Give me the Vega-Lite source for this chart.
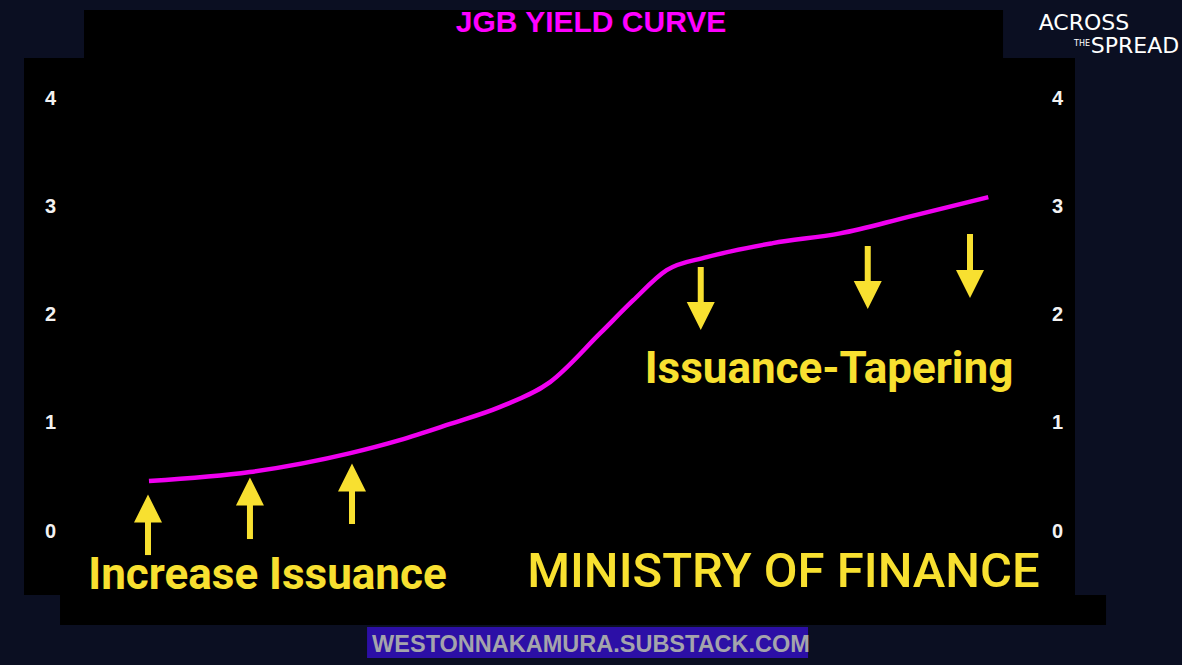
{
  "$schema": "https://vega.github.io/schema/vega-lite/v6.json",
  "width": 1051,
  "height": 537,
  "autosize": {"type": "none"},
  "padding": {"left": 24, "top": 58, "right": 107, "bottom": 70},
  "background": "#0b0f22",
  "config": {
    "view": {"fill": "#000000", "stroke": null},
    "axis": {"grid": false, "domain": false, "ticks": false, "tickSize": 0, "labelColor": "#f2f2f2", "labelFont": "Liberation Sans", "labelFontWeight": "bold", "title": null, "zindex": 1}
  },
  "datasets": {
    "curve": [
      {"tenor": 0.114, "yield": 0.462},
      {"tenor": 1.075, "yield": 0.545},
      {"tenor": 2.03, "yield": 0.72},
      {"tenor": 2.5, "yield": 0.84},
      {"tenor": 2.98, "yield": 0.99},
      {"tenor": 3.45, "yield": 1.145},
      {"tenor": 3.93, "yield": 1.376},
      {"tenor": 4.41, "yield": 1.83},
      {"tenor": 4.72, "yield": 2.13},
      {"tenor": 5.04, "yield": 2.41},
      {"tenor": 5.42, "yield": 2.53},
      {"tenor": 6.05, "yield": 2.66},
      {"tenor": 6.69, "yield": 2.75},
      {"tenor": 7.33, "yield": 2.9},
      {"tenor": 8.1, "yield": 3.085}
    ],
    "arrows": [
      {"tenor": 0.105, "tail": -0.222, "head": 0.208, "dir": "up"},
      {"tenor": 1.075, "tail": -0.074, "head": 0.365, "dir": "up"},
      {"tenor": 2.046, "tail": 0.065, "head": 0.494, "dir": "up"},
      {"tenor": 5.364, "tail": 2.439, "head": 1.986, "dir": "down"},
      {"tenor": 6.953, "tail": 2.633, "head": 2.18, "dir": "down"},
      {"tenor": 7.926, "tail": 2.744, "head": 2.282, "dir": "down"}
    ],
    "panels": [
      {"x1": -0.504, "x2": 8.24, "y1": 4.37, "y2": 4.813},
      {"x1": -0.732, "x2": 9.22, "y1": -0.591, "y2": -0.868}
    ],
    "band": [
      {"x1": 2.189, "x2": 6.385, "y1": -0.887, "y2": -1.173}
    ],
    "notes": [
      {"kind": "callout", "label": "Increase Issuance", "tenor": 1.242, "yield": -0.536},
      {"kind": "callout", "label": "Issuance-Tapering", "tenor": 6.584, "yield": 1.367},
      {"kind": "big", "label": "MINISTRY OF FINANCE", "tenor": 6.151, "yield": -0.517},
      {"kind": "title", "label": "JGB YIELD CURVE", "tenor": 4.32, "yield": 4.61},
      {"kind": "footer", "label": "WESTONNAKAMURA.SUBSTACK.COM", "tenor": 4.32, "yield": -1.118},
      {"kind": "logo1", "label": "ACROSS", "tenor": 9.01, "yield": 4.628},
      {"kind": "logo2", "label": "SPREAD", "tenor": 9.496, "yield": 4.416},
      {"kind": "logo3", "label": "THE", "tenor": 8.992, "yield": 4.48}
    ]
  },
  "resolve": {"axis": {"x": "independent", "y": "independent"}},
  "layer": [
    {
      "data": {"name": "panels"},
      "mark": {"type": "rect", "fill": "#000000", "clip": false},
      "encoding": {
        "x": {"field": "x1", "type": "quantitative", "scale": {"domain": [-1.075, 8.925], "nice": false, "zero": false}, "axis": null},
        "x2": {"field": "x2"},
        "y": {"field": "y1", "type": "quantitative", "scale": {"domain": [-0.591, 4.37], "nice": false, "zero": false}, "axis": null},
        "y2": {"field": "y2"}
      }
    },
    {
      "data": {"name": "band"},
      "mark": {"type": "rect", "fill": "#2c0fa6", "clip": false},
      "encoding": {
        "x": {"field": "x1", "type": "quantitative", "axis": null},
        "x2": {"field": "x2"},
        "y": {"field": "y1", "type": "quantitative", "axis": null},
        "y2": {"field": "y2"}
      }
    },
    {
      "data": {"name": "curve"},
      "mark": {"type": "line", "color": "#f000f0", "strokeWidth": 4.5, "interpolate": "monotone", "strokeCap": "butt"},
      "encoding": {
        "x": {"field": "tenor", "type": "quantitative", "axis": {"orient": "bottom", "values": [0, 1, 2, 3, 4, 5, 6, 7, 8], "labelExpr": "['6M','1Y','2Y','5Y','10Y','20Y','25Y','30Y','40Y'][datum.value]", "labelFontSize": 13, "labelPadding": 11, "labelOffset": 3}},
        "y": {"field": "yield", "type": "quantitative", "axis": {"orient": "left", "values": [0, 1, 2, 3, 4], "labelFontSize": 20, "labelAlign": "center", "labelPadding": -26}}
      }
    },
    {
      "data": {"name": "arrows"},
      "mark": {"type": "rule", "color": "#f8e030", "strokeWidth": 6, "strokeCap": "butt"},
      "encoding": {
        "x": {"field": "tenor", "type": "quantitative", "axis": {"orient": "top", "values": [0, 1, 2, 3, 4, 5, 6, 7, 8], "labelExpr": "['6M','1Y','2Y','5Y','10Y','20Y','25Y','30Y','40Y'][datum.value]", "labelFontSize": 13, "labelPadding": 1, "labelOffset": -3}},
        "y": {"field": "tail", "type": "quantitative", "axis": {"orient": "right", "values": [0, 1, 2, 3, 4], "labelFontSize": 20, "labelAlign": "center", "labelPadding": -18}},
        "y2": {"field": "head"}
      }
    },
    {
      "data": {"name": "arrows"},
      "transform": [{"filter": "datum.dir == 'up'"}],
      "mark": {"type": "point", "shape": "M0,-1L1,1L-1,1Z", "size": 784, "filled": true, "color": "#f8e030", "opacity": 1},
      "encoding": {
        "x": {"field": "tenor", "type": "quantitative", "axis": null},
        "y": {"field": "head", "type": "quantitative", "axis": null}
      }
    },
    {
      "data": {"name": "arrows"},
      "transform": [{"filter": "datum.dir == 'down'"}],
      "mark": {"type": "point", "shape": "M0,1L1,-1L-1,-1Z", "size": 784, "filled": true, "color": "#f8e030", "opacity": 1},
      "encoding": {
        "x": {"field": "tenor", "type": "quantitative", "axis": null},
        "y": {"field": "head", "type": "quantitative", "axis": null}
      }
    },
    {
      "data": {"name": "notes"},
      "transform": [{"filter": "datum.kind == 'callout'"}],
      "mark": {"type": "text", "font": "Roboto", "fontWeight": "bold", "fontSize": 44, "color": "#f8e030", "baseline": "alphabetic", "align": "center", "clip": false},
      "encoding": {
        "x": {"field": "tenor", "type": "quantitative", "axis": null},
        "y": {"field": "yield", "type": "quantitative", "axis": null},
        "text": {"field": "label"}
      }
    },
    {
      "data": {"name": "notes"},
      "transform": [{"filter": "datum.kind == 'big'"}],
      "mark": {"type": "text", "font": "Roboto", "fontWeight": 500, "fontSize": 49, "color": "#f8e030", "baseline": "alphabetic", "align": "center", "clip": false},
      "encoding": {
        "x": {"field": "tenor", "type": "quantitative", "axis": null},
        "y": {"field": "yield", "type": "quantitative", "axis": null},
        "text": {"field": "label"}
      }
    },
    {
      "data": {"name": "notes"},
      "transform": [{"filter": "datum.kind == 'title'"}],
      "mark": {"type": "text", "font": "Liberation Sans", "fontWeight": "bold", "fontSize": 30, "color": "#ff00ff", "baseline": "alphabetic", "align": "center", "clip": false},
      "encoding": {
        "x": {"field": "tenor", "type": "quantitative", "axis": null},
        "y": {"field": "yield", "type": "quantitative", "axis": null},
        "text": {"field": "label"}
      }
    },
    {
      "data": {"name": "notes"},
      "transform": [{"filter": "datum.kind == 'footer'"}],
      "mark": {"type": "text", "font": "Liberation Sans", "fontWeight": "bold", "fontSize": 23.5, "color": "#a4a4ac", "baseline": "alphabetic", "align": "center", "clip": false},
      "encoding": {
        "x": {"field": "tenor", "type": "quantitative", "axis": null},
        "y": {"field": "yield", "type": "quantitative", "axis": null},
        "text": {"field": "label"}
      }
    },
    {
      "data": {"name": "notes"},
      "transform": [{"filter": "datum.kind == 'logo1'"}],
      "mark": {"type": "text", "font": "DejaVu Sans", "fontWeight": "normal", "fontSize": 22, "color": "#ffffff", "baseline": "alphabetic", "align": "center", "clip": false},
      "encoding": {
        "x": {"field": "tenor", "type": "quantitative", "axis": null},
        "y": {"field": "yield", "type": "quantitative", "axis": null},
        "text": {"field": "label"}
      }
    },
    {
      "data": {"name": "notes"},
      "transform": [{"filter": "datum.kind == 'logo2'"}],
      "mark": {"type": "text", "font": "DejaVu Sans", "fontWeight": "normal", "fontSize": 22, "color": "#ffffff", "baseline": "alphabetic", "align": "center", "clip": false},
      "encoding": {
        "x": {"field": "tenor", "type": "quantitative", "axis": null},
        "y": {"field": "yield", "type": "quantitative", "axis": null},
        "text": {"field": "label"}
      }
    },
    {
      "data": {"name": "notes"},
      "transform": [{"filter": "datum.kind == 'logo3'"}],
      "mark": {"type": "text", "font": "DejaVu Sans", "fontWeight": "normal", "fontSize": 8, "color": "#ffffff", "baseline": "alphabetic", "align": "center", "clip": false},
      "encoding": {
        "x": {"field": "tenor", "type": "quantitative", "axis": null},
        "y": {"field": "yield", "type": "quantitative", "axis": null},
        "text": {"field": "label"}
      }
    }
  ]
}
